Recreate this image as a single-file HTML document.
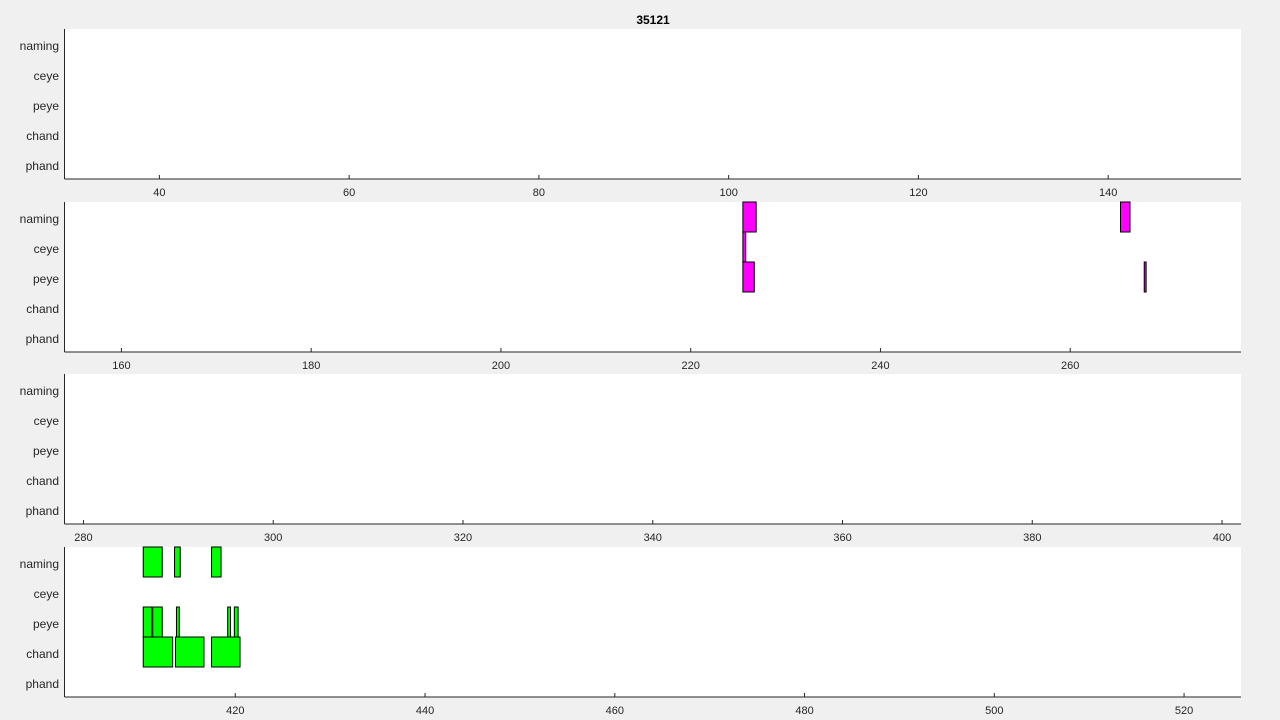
<!DOCTYPE html>
<html><head><meta charset="utf-8"><style>
body{margin:0;background:#f0f0f0;}
svg{display:block;font-family:"Liberation Sans",sans-serif;}
</style></head><body>
<svg id="chart" width="1280" height="720">
<text x="653" y="24" text-anchor="middle" font-weight="bold" font-size="12">35121</text>
</svg>
<script>
const rows = ['naming','ceye','peye','chand','phand'];
const panelStarts = [30, 154, 278, 402];
const panelSpan = 124;
const panelTicks = [[40,60,80,100,120,140],[160,180,200,220,240,260],[280,300,320,340,360,380,400],[420,440,460,480,500,520]];
const eventRows = ['naming','ceye','peye','naming','peye',
  'naming','naming','naming','peye','peye','peye','peye','peye','chand','chand','chand'];
const eventStarts = [225.5,225.5,225.5,265.3,267.8,
  410.3,413.6,417.5,410.3,411.3,413.8,419.2,419.9,410.3,413.7,417.5];
const eventEnds = [226.9,225.8,226.7,266.3,268.0,
  412.3,414.2,418.5,411.2,412.3,414.1,419.5,420.3,413.4,416.7,420.5];
const eventColors = ['#ff00ff','#ff00ff','#ff00ff','#ff00ff','#ff00ff',
  '#00ff00','#00ff00','#00ff00','#00ff00','#00ff00','#00ff00','#00ff00','#00ff00','#00ff00','#00ff00','#00ff00'];

const svg = document.getElementById('chart');
const NS = 'http://www.w3.org/2000/svg';
const panelTops = [29, 202, 374, 547];
const L = 64.5, R = 1241, H = 150;
function mk(tag, attrs){const e=document.createElementNS(NS,tag);for(const k in attrs)e.setAttribute(k,attrs[k]);svg.appendChild(e);return e;}
panelStarts.forEach((s,p)=>{
  const top = panelTops[p];
  const xs = v => L + (v - s) / panelSpan * (R - L);
  const ys = r => top + rows.indexOf(r) * H / rows.length;
  const bg = mk('rect',{x:L,y:top,width:R-L,height:H,fill:'#fff'});
  
  
  rows.forEach((r,i)=>{
    const t = mk('text',{x:59,y:top+i*30+21,'text-anchor':'end','font-size':12,fill:'#262626'});
    t.textContent = r;
    
    
  });
  panelTicks[p].forEach(v=>{
    const x = xs(v);
    mk('line',{x1:x,x2:x,y1:top+H,y2:top+H-4,stroke:'#262626'});
    const t = mk('text',{x:x,y:top+H+17,'text-anchor':'middle','font-size':11,fill:'#262626'});
    t.textContent = v;
    
    
  });
  eventStarts.forEach((st,i)=>{
    if (st < s || st > s + panelSpan) return;
    const rc = mk('rect',{x:xs(st),y:ys(eventRows[i]),width:Math.max(1,xs(eventEnds[i])-xs(st)),height:30,fill:eventColors[i],stroke:'#000','stroke-width':1});
    
    
  });
  mk('line',{x1:L,x2:L,y1:top,y2:top+H,stroke:'#262626'});
  mk('line',{x1:L,x2:R,y1:top+H,y2:top+H,stroke:'#262626'});
});
</script>
</body></html>
